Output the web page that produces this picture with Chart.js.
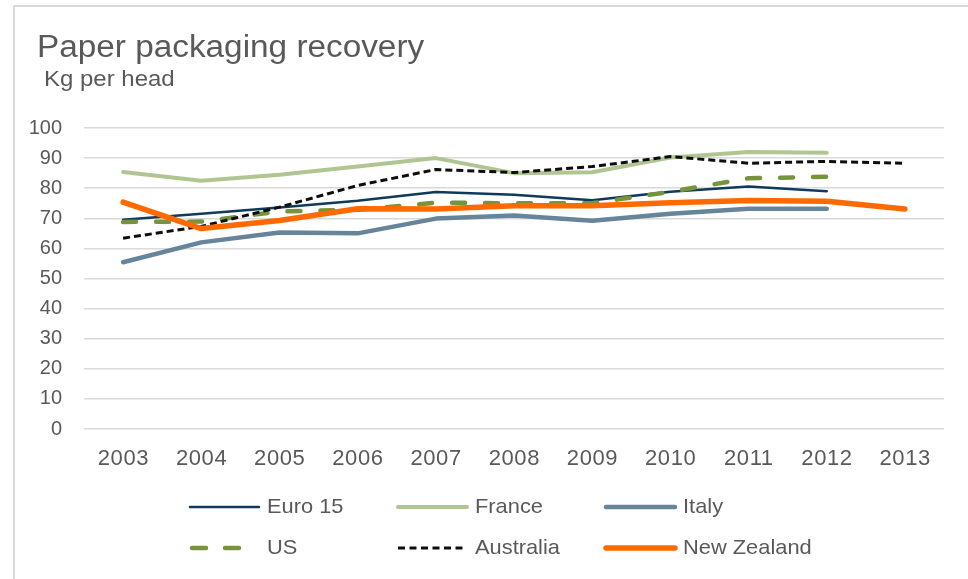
<!DOCTYPE html>
<html>
<head>
<meta charset="utf-8">
<title>Paper packaging recovery</title>
<script src="https://cdn.jsdelivr.net/npm/chart.js@4/dist/chart.umd.min.js"></script>
<style>
  html, body { margin: 0; padding: 0; background: #fff; }
  #wrap { position: relative; width: 968px; height: 579px; }
</style>
</head>
<body>
<div id="wrap"><canvas id="c"></canvas></div>
<script>
// Recovered paper packaging, kg per head
const years = ['2003', '2004', '2005', '2006', '2007', '2008', '2009', '2010', '2011', '2012', '2013'];
const euro15 = [69.5, 71.5, 73.6, 75.8, 78.7, 77.8, 76.0, 78.8, 80.6, 79.0, null];
const france = [85.4, 82.5, 84.5, 87.2, 90.0, 85.0, 85.3, 90.2, 92.0, 91.8, null];
const italy = [55.4, 62.0, 65.3, 65.0, 69.9, 70.9, 69.2, 71.5, 73.2, 73.2, null];
const us = [68.8, 68.9, 72.3, 72.8, 75.2, 75.0, 75.0, 78.8, 83.3, 83.8, null];
const australia = [63.4, 67.3, 73.7, 80.9, 86.2, 85.2, 87.2, 90.5, 88.3, 88.9, 88.3];
const newZealand = [75.4, 66.6, 69.3, 73.2, 73.1, 74.2, 74.2, 75.2, 75.9, 75.7, 73.1];
const yTicks = [0, 10, 20, 30, 40, 50, 60, 70, 80, 90, 100];

const FONT = '"Liberation Sans", Arial, sans-serif';
const TEXT = '#595959';

function series(label, data, color, width, dash, cap, order, legendDash) {
  return {
    label, data,
    borderColor: color, backgroundColor: color,
    borderWidth: width, borderDash: dash, borderCapStyle: cap,
    borderJoinStyle: 'round',
    pointRadius: 0, pointHoverRadius: 0, tension: 0, spanGaps: false,
    fill: false, order,
    legendDash: legendDash || dash
  };
}

const datasets = [
  series('Euro 15', euro15, '#103a5c', 2.5, [], 'round', 5),
  series('France', france, '#b1c593', 4, [], 'round', 4),
  series('Italy', italy, '#66859b', 4.5, [], 'round', 3),
  series('US', us, '#77943c', 4.5, [13, 20], 'round', 2, [14, 19]),
  series('Australia', australia, '#0d0d0d', 3, [7, 4], 'butt', 1, [7, 4.5]),
  series('New Zealand', newZealand, '#ff6a00', 5.5, [], 'round', 0)
];

// Text drawn slightly wide, as in the original office chart rendering
function wideText(ctx, text, x, y, stretch) {
  ctx.save();
  ctx.translate(x, y);
  ctx.scale(stretch, 1);
  ctx.fillText(text, 0, 0);
  ctx.restore();
}

// Frame, headings and a three-column legend drawn on the canvas
const decorations = {
  id: 'decorations',
  beforeDraw(chart) {
    const ctx = chart.ctx;
    ctx.save();
    ctx.strokeStyle = '#d9d9d9';
    ctx.lineWidth = 2;
    ctx.beginPath();
    ctx.moveTo(14, 579);
    ctx.lineTo(14, 6);
    ctx.lineTo(968, 6);
    ctx.stroke();
    ctx.restore();
  },
  afterLayout(chart) {
    // x labels are spaced a little wider than the y labels
    const xs = chart.scales.x;
    if (!xs._spacedLabels) {
      const orig = xs.drawLabels;
      xs.drawLabels = function (area) {
        const ctx = this.ctx;
        ctx.save();
        ctx.letterSpacing = '0.6px';
        ctx.translate(0.3, 0);
        orig.call(this, area);
        ctx.restore();
      };
      xs._spacedLabels = true;
    }
  },
  afterDraw(chart) {
    const ctx = chart.ctx;
    ctx.save();
    ctx.fillStyle = TEXT;
    ctx.textAlign = 'left';
    ctx.textBaseline = 'alphabetic';
    ctx.font = '31px ' + FONT;
    wideText(ctx, 'Paper packaging recovery', 37, 57, 1.075);
    ctx.font = '22px ' + FONT;
    wideText(ctx, 'Kg per head', 44, 86, 1.09);

    const cols = [190, 398, 606];
    const rows = [507, 548];
    const lineLen = 69;
    ctx.font = '21px ' + FONT;
    ctx.textBaseline = 'middle';
    datasets.forEach((ds, i) => {
      const x = cols[i % 3];
      const y = rows[Math.floor(i / 3)];
      const dashed = ds.legendDash.length > 0;
      const roundDash = dashed && ds.borderCapStyle === 'round';
      const x0 = roundDash ? x + 2 : x;
      const x1 = roundDash ? x + 49 : x + lineLen;
      ctx.save();
      ctx.strokeStyle = ds.borderColor;
      ctx.lineWidth = ds.borderWidth;
      ctx.lineCap = ds.borderCapStyle;
      ctx.setLineDash(ds.legendDash);
      ctx.beginPath();
      ctx.moveTo(x0, y);
      ctx.lineTo(x1, y);
      ctx.stroke();
      ctx.restore();
      ctx.fillStyle = TEXT;
      wideText(ctx, ds.label, x + lineLen + 8, y, 1.04);
    });
    ctx.restore();
  }
};

new Chart(document.getElementById('c'), {
  type: 'line',
  data: { labels: years, datasets },
  options: {
    responsive: true,
    maintainAspectRatio: false,
    animation: false,
    events: [],
    layout: { padding: { left: 0, right: 24, top: 128, bottom: 110 } },
    plugins: { legend: { display: false }, title: { display: false }, tooltip: { enabled: false } },
    scales: {
      x: {
        type: 'category',
        offset: true,
        grid: { display: false },
        border: { display: false },
        ticks: { color: TEXT, font: { family: FONT, size: 22 }, padding: 9, maxRotation: 0 },
        afterFit(scale) { scale.height = 40; }
      },
      y: {
        min: 0, max: 100,
        afterBuildTicks(scale) { scale.ticks = yTicks.map(v => ({ value: v })); },
        grid: { color: '#d9d9d9', lineWidth: 1.5, drawTicks: false },
        border: { display: false },
        ticks: { color: TEXT, font: { family: FONT, size: 20 }, padding: 22 },
        afterFit(scale) { scale.width = 84; }
      }
    }
  },
  plugins: [decorations]
});
</script>
</body>
</html>
